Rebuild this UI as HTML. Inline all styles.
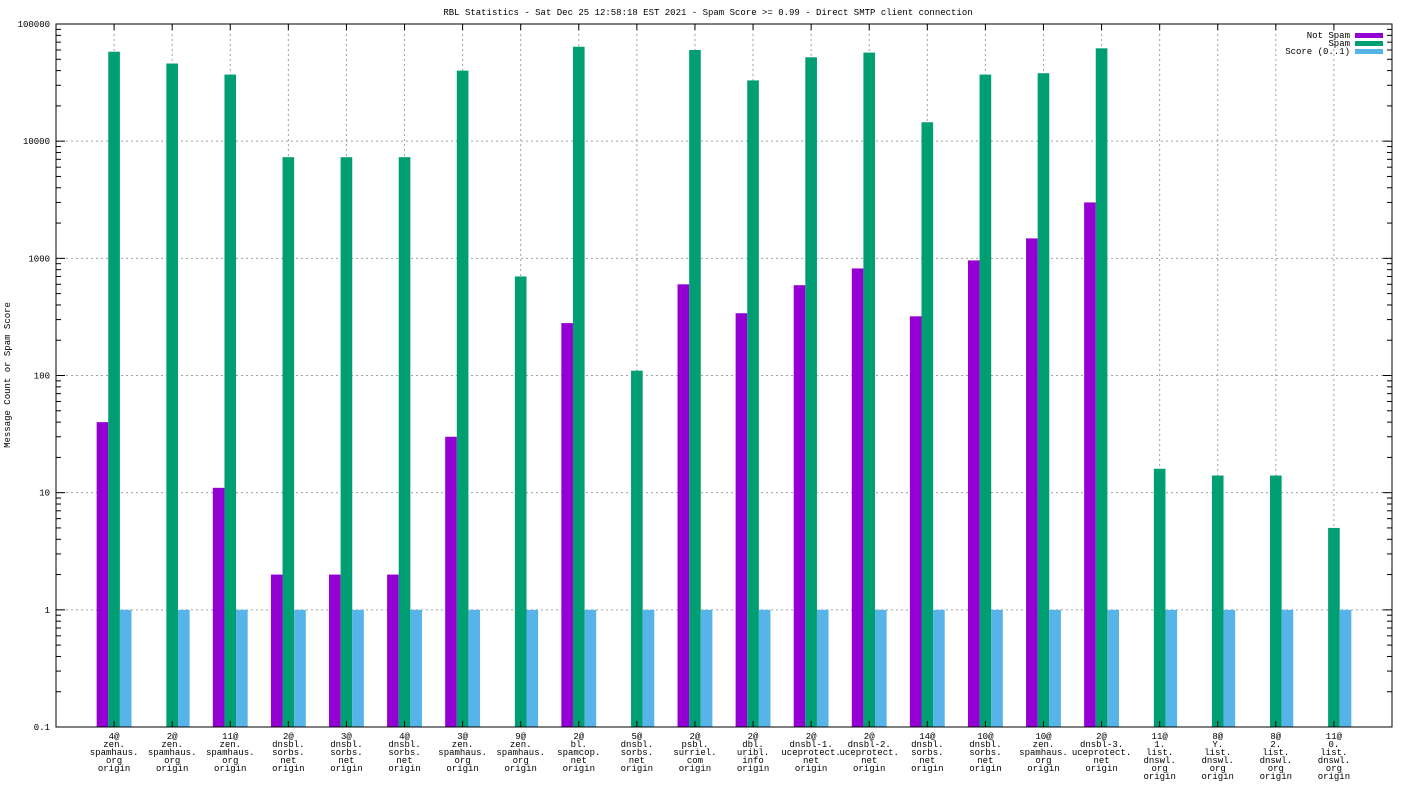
<!DOCTYPE html>
<html><head><meta charset="utf-8"><style>
body{margin:0;background:#fff}
svg{display:block;font-family:"Liberation Mono","DejaVu Sans Mono",monospace;font-size:9px}
</style></head><body>
<svg id="chart" width="1408" height="792" viewBox="0 0 1408 792" xmlns="http://www.w3.org/2000/svg">
<text x="708" y="15" text-anchor="middle">RBL Statistics - Sat Dec 25 12:58:18 EST 2021 - Spam Score &gt;= 0.99 - Direct SMTP client connection</text>
<text transform="translate(10,375) rotate(-90)" text-anchor="middle">Message Count or Spam Score</text>
<g id="grid"></g><g id="bars"></g><g id="axes"></g><g id="labels"></g>
<g>
<text x="1350" y="38" text-anchor="end">Not Spam</text>
<rect x="1355" y="33" width="28" height="5" fill="#9400d3"/>
<text x="1350" y="46" text-anchor="end">Spam</text>
<rect x="1355" y="41" width="28" height="5" fill="#009e73"/>
<text x="1350" y="54" text-anchor="end">Score (0..1)</text>
<rect x="1355" y="49" width="28" height="5" fill="#56b4e9"/>
</g>
</svg>
<script>
const categories=[["4@","zen.","spamhaus.","org","origin"],["2@","zen.","spamhaus.","org","origin"],["11@","zen.","spamhaus.","org","origin"],["2@","dnsbl.","sorbs.","net","origin"],["3@","dnsbl.","sorbs.","net","origin"],["4@","dnsbl.","sorbs.","net","origin"],["3@","zen.","spamhaus.","org","origin"],["9@","zen.","spamhaus.","org","origin"],["2@","bl.","spamcop.","net","origin"],["5@","dnsbl.","sorbs.","net","origin"],["2@","psbl.","surriel.","com","origin"],["2@","dbl.","uribl.","info","origin"],["2@","dnsbl-1.","uceprotect.","net","origin"],["2@","dnsbl-2.","uceprotect.","net","origin"],["14@","dnsbl.","sorbs.","net","origin"],["10@","dnsbl.","sorbs.","net","origin"],["10@","zen.","spamhaus.","org","origin"],["2@","dnsbl-3.","uceprotect.","net","origin"],["11@","1.","list.","dnswl.","org","origin"],["8@","Y.","list.","dnswl.","org","origin"],["8@","2.","list.","dnswl.","org","origin"],["11@","0.","list.","dnswl.","org","origin"]];
const notSpam=[40,0,11,2,2,2,30,0,280,0,600,340,590,820,320,960,1480,3000,0,0,0,0];
const spam=[58000,46000,37000,7300,7300,7300,40000,700,64000,110,60000,33000,52000,57000,14500,37000,38000,62000,16,14,14,5];
const score=[1,1,1,1,1,1,1,1,1,1,1,1,1,1,1,1,1,1,1,1,1,1];
const yTicks=["0.1","1","10","100","1000","10000","100000"];
const L=56,R=1392,T=24,B=727,NS="http://www.w3.org/2000/svg";
const xs=i=>L+(i+1)*(R-L)/23;
const ys=v=>B-(Math.log10(v)+1)*(B-T)/6;
function mk(tag,a,p){const e=document.createElementNS(NS,tag);for(const k in a)e.setAttribute(k,a[k]);p.appendChild(e);return e;}
const g=document.getElementById('grid'),bars=document.getElementById('bars'),ax=document.getElementById('axes'),lb=document.getElementById('labels');
yTicks.forEach(t=>{const y=ys(+t);
 if(y>T+1&&y<B-1){const gl=mk('line',{x1:L,x2:R,y1:y,y2:y,stroke:'#a0a0a0','stroke-dasharray':'2,3'},g);}
 mk('line',{x1:L,x2:L+9,y1:y,y2:y,stroke:'#000'},ax);mk('line',{x1:R,x2:R-9,y1:y,y2:y,stroke:'#000'},ax);
 const tx=mk('text',{x:L-6,y:y+3,'text-anchor':'end'},ax);tx.textContent=t;
 
 if(+t<100000)for(let m=2;m<10;m++){const yy=ys(+t*m);mk('line',{x1:L,x2:L+5,y1:yy,y2:yy,stroke:'#000'},ax);mk('line',{x1:R,x2:R-5,y1:yy,y2:yy,stroke:'#000'},ax);}
});
const bw=(R-L)/23*0.2;
categories.forEach((c,i)=>{const x=xs(i);
 mk('line',{x1:x,x2:x,y1:T,y2:B,stroke:'#a0a0a0','stroke-dasharray':'2,3'},g);
 mk('line',{x1:x,x2:x,y1:T,y2:T+6,stroke:'#000'},ax);mk('line',{x1:x,x2:x,y1:B,y2:B-6,stroke:'#000'},ax);
 [[notSpam,'#9400d3',-1,'not-spam'],[spam,'#009e73',0,'spam'],[score,'#56b4e9',1,'score']].forEach(([arr,col,o,nm])=>{
  const v=arr[i];if(!(v>0))return;const y=ys(v);
  const r=mk('rect',{x:x+o*bw-bw/2,y:y,width:bw,height:B-y,fill:col},bars);
  
 });
 c.forEach((s,k)=>{const t=mk('text',{x:x,y:739+k*8,'text-anchor':'middle'},lb);t.textContent=s;
  });
});
mk('rect',{x:L,y:T,width:R-L,height:B-T,fill:'none',stroke:'#000','stroke-width':1},ax);
</script>
</body></html>
